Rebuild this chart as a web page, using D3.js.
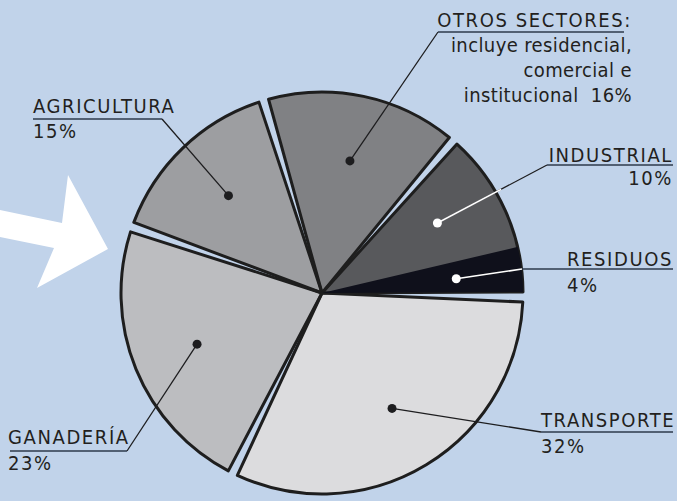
<!DOCTYPE html>
<html>
<head>
<meta charset="utf-8">
<script src="https://cdn.jsdelivr.net/npm/d3@7/dist/d3.min.js"></script>
<style>
  body { margin: 0; background: #c1d3ea; }
  svg { display: block; }
  .lbl { font-family: "DejaVu Sans Condensed", "DejaVu Sans", sans-serif; font-size: 20px; fill: #231f20; letter-spacing: 1.6px; }
  .note { letter-spacing: 0.4px; }
</style>
</head>
<body>
<svg id="chart"></svg>
<script>
// data, counter-clockwise from 3 o'clock
const sectors = ["RESIDUOS", "INDUSTRIAL", "OTROS SECTORES:", "AGRICULTURA", "GANADERÍA", "TRANSPORTE"];
const shares = [4, 10, 16, 15, 23, 32];
const fills = ["#0f101b", "#58595c", "#808184", "#9d9ea1", "#bcbdc0", "#dcdcde"];
const notes = [[], [], ["incluye residencial,", "comercial e", "institucional"], [], [], []];

// label layout: name position, underline span, where the % goes
const labelPos = [
  { x: 673, y: 266, anchor: "end",   u0: 522, u1: 673, uy: 269, pct: "startLeft",  py: 292, dotWhite: true },
  { x: 673, y: 162, anchor: "end",   u0: 547, u1: 673, uy: 165, pct: "right",      py: 185, dotWhite: true },
  { x: 632, y: 27,  anchor: "end",   u0: 438, u1: 624, uy: 32,  pct: "inline",     py: 102 },
  { x: 33,  y: 113, anchor: "start", u0: 33,  u1: 162, uy: 119, pct: "left",       py: 138 },
  { x: 8,   y: 444, anchor: "start", u0: 10,  u1: 127, uy: 451, pct: "left",       py: 470 },
  { x: 541, y: 427, anchor: "start", u0: 541, u1: 673, uy: 432, pct: "left",       py: 453 }
];
const leaderFrom = ["u0", "u0", "u0", "u1", "u1", "u0"];

const width = 677, height = 501;
const cx = 322, cy = 293, radius = 201;

const svg = d3.select("#chart")
    .attr("width", width)
    .attr("height", height);

const defs = svg.append("defs");

// background
svg.append("rect").attr("width", width).attr("height", height).attr("fill", "#c1d3ea");

// white arrow on the left
const arrowPts = [[0, 210], [62, 223], [68, 175], [108, 249], [37, 288], [54, 248], [0, 237]];
svg.append("path")
    .attr("d", d3.line()(arrowPts) + "Z")
    .attr("fill", "#ffffff");

const pie = d3.pie().sort(null).value(d => d)
    .startAngle(Math.PI / 2 + 0.02)
    .endAngle(Math.PI / 2 + 0.02 - 2 * Math.PI);
const arcs = pie(shares);

// residuos and industrial are drawn as one piece
const groups = [
    { startAngle: arcs[0].startAngle, endAngle: arcs[1].endAngle, padAngle: 0.05, idx: 1 },
    { startAngle: arcs[2].startAngle, endAngle: arcs[2].endAngle, padAngle: 0.05, idx: 2 },
    { startAngle: arcs[3].startAngle, endAngle: arcs[3].endAngle, padAngle: 0.05, idx: 3 },
    { startAngle: arcs[4].startAngle, endAngle: arcs[4].endAngle, padAngle: 0.05, idx: 4 },
    { startAngle: arcs[5].startAngle, endAngle: arcs[5].endAngle, padAngle: 0.05, idx: 5 }
];

const arc = d3.arc().innerRadius(0).outerRadius(radius).padRadius(radius);
const plainArc = d3.arc().innerRadius(0).outerRadius(radius + 6);
const dotArc = d3.arc().innerRadius(0).outerRadius(270);

const g = svg.append("g").attr("transform", `translate(${cx},${cy})`);

defs.append("clipPath").attr("id", "clipGroup0")
    .append("path").attr("transform", `translate(${cx},${cy})`).attr("d", arc(groups[0]));
arcs.forEach((a, i) => {
    defs.append("clipPath").attr("id", "clipSlice" + i)
        .append("path").attr("transform", `translate(${cx},${cy})`)
        .attr("d", plainArc({ startAngle: a.startAngle, endAngle: a.endAngle }));
});

g.selectAll("path.group")
    .data(groups)
    .join("path")
    .attr("class", "group")
    .attr("d", arc)
    .attr("fill", d => fills[d.idx]);

// residuos inside the merged piece
svg.append("g").attr("clip-path", "url(#clipGroup0)")
    .append("path")
    .attr("transform", `translate(${cx},${cy})`)
    .attr("d", plainArc({ startAngle: arcs[0].startAngle, endAngle: arcs[0].endAngle }))
    .attr("fill", fills[0]);

// outlines
g.selectAll("path.outline")
    .data(groups)
    .join("path")
    .attr("class", "outline")
    .attr("d", arc)
    .attr("fill", "none")
    .attr("stroke", "#1e1e1e")
    .attr("stroke-width", 3)
    .attr("stroke-linejoin", "round");

// labels
const lab = svg.append("g");
arcs.forEach((a, i) => {
    const p = labelPos[i];
    const c = dotArc.centroid(a);
    const dot = [cx + c[0], cy + c[1]];
    const start = [p[leaderFrom[i]], p.uy];

    // leader line: dark outside, white over dark slices
    lab.append("line")
        .attr("x1", start[0]).attr("y1", start[1])
        .attr("x2", dot[0]).attr("y2", dot[1])
        .attr("stroke", "#1d1d1f").attr("stroke-width", 1.3);
    if (p.dotWhite) {
        lab.append("g").attr("clip-path", `url(#clipSlice${i})`)
            .append("line")
            .attr("x1", start[0]).attr("y1", start[1])
            .attr("x2", dot[0]).attr("y2", dot[1])
            .attr("stroke", "#ffffff").attr("stroke-width", 1.6);
    }
    lab.append("circle")
        .attr("cx", dot[0]).attr("cy", dot[1]).attr("r", 4.5)
        .attr("fill", p.dotWhite ? "#ffffff" : "#1d1d1f");

    // underline
    lab.append("line")
        .attr("x1", p.u0).attr("x2", p.u1)
        .attr("y1", p.uy).attr("y2", p.uy)
        .attr("stroke", "#2c3a4b").attr("stroke-width", 1.6);

    const name = lab.append("text")
        .attr("class", "lbl")
        .attr("x", p.x).attr("y", p.y)
        .attr("text-anchor", p.anchor)
        .text(sectors[i]);

    const pctText = shares[i] + "%";
    notes[i].forEach((line, k) => {
        const last = k === notes[i].length - 1;
        lab.append("text")
            .attr("class", "lbl note")
            .attr("x", p.x).attr("y", p.y + 25 * (k + 1))
            .attr("text-anchor", "end")
            .attr("xml:space", "preserve")
            .text(last && p.pct === "inline" ? line + "  " + pctText : line);
    });

    if (p.pct === "right") {
        lab.append("text").attr("class", "lbl")
            .attr("x", p.x).attr("y", p.py).attr("text-anchor", "end").text(pctText);
    } else if (p.pct === "left") {
        lab.append("text").attr("class", "lbl")
            .attr("x", p.x).attr("y", p.py).attr("text-anchor", "start").text(pctText);
    } else if (p.pct === "startLeft") {
        const bb = name.node().getBBox();
        lab.append("text").attr("class", "lbl")
            .attr("x", bb.x).attr("y", p.py).attr("text-anchor", "start").text(pctText);
    }
});
</script>
</body>
</html>
